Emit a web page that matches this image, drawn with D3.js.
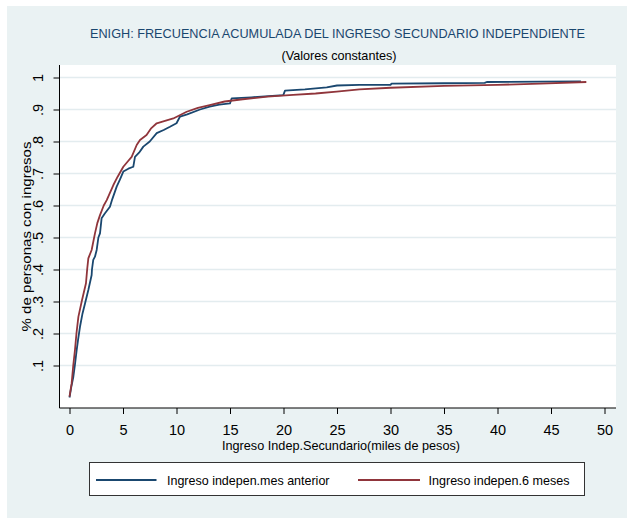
<!DOCTYPE html>
<html>
<head>
<meta charset="utf-8">
<script src="https://cdn.jsdelivr.net/npm/d3@7"></script>
<style>
  body { margin: 0; background: #fff; }
  text { font-family: "Liberation Sans", Arial, sans-serif; }
</style>
</head>
<body>
<div id="container"></div>
<script>
// Curva "mes anterior" (azul)
const blueX = [0, 0.15, 0.36, 0.5, 0.67, 0.8, 0.98, 1.2, 1.45, 1.76, 2.07, 2.1, 2.22, 2.38, 2.54, 2.7, 2.85, 3.0, 3.3, 3.78,
  4.0, 4.41, 4.7, 5.03, 5.5, 5.96, 6.12, 6.5, 6.9, 7.5, 8.15, 8.8, 9.39, 10.0, 10.33, 11.0, 12.2, 13.1, 14.0, 15.0,
  15.16, 17.0, 19.98, 20.14, 22.0, 24.04, 25.0, 27.1, 30.0, 30.1, 35.0, 38.8, 39.0, 44.0, 47.8];
const blueY = [0.0, 0.03, 0.065, 0.1, 0.148, 0.18, 0.221, 0.26, 0.294, 0.336, 0.383, 0.4, 0.43, 0.44, 0.461, 0.5, 0.513, 0.56, 0.575, 0.596,
  0.62, 0.659, 0.68, 0.706, 0.715, 0.721, 0.752, 0.765, 0.784, 0.8, 0.826, 0.836, 0.846, 0.857, 0.878, 0.885, 0.9, 0.909, 0.915, 0.919,
  0.935, 0.938, 0.945, 0.959, 0.963, 0.969, 0.975, 0.977, 0.977, 0.981, 0.982, 0.983, 0.986, 0.987, 0.988];

// Curva "6 meses" (roja)
const redX = [0, 0.2, 0.35, 0.51, 0.65, 0.83, 1.14, 1.54, 1.65, 1.76, 2.07, 2.38, 2.6, 2.85, 3.2, 3.48, 4.1, 4.5, 5.03, 5.5,
  5.81, 6.28, 6.59, 7.2, 7.6, 8.15, 9.0, 9.7, 10.95, 12.0, 13.1, 14.5, 16.2, 18.5, 20.9, 23.0, 24.97, 27.1, 30.0, 35.0,
  40.0, 44.0, 48.3];
const redY = [0.003, 0.044, 0.1, 0.148, 0.2, 0.252, 0.3, 0.357, 0.4, 0.435, 0.461, 0.513, 0.545, 0.57, 0.6, 0.617, 0.664, 0.69, 0.721, 0.74,
  0.752, 0.789, 0.805, 0.82, 0.84, 0.857, 0.865, 0.872, 0.893, 0.905, 0.914, 0.925, 0.932, 0.94, 0.946, 0.95, 0.956, 0.963, 0.968, 0.974,
  0.977, 0.981, 0.986];

const xTicks = [0, 5, 10, 15, 20, 25, 30, 35, 40, 45, 50];
const yTicks = [0.1, 0.2, 0.3, 0.4, 0.5, 0.6, 0.7, 0.8, 0.9, 1];
const seriesNames = ['Ingreso indepen.mes anterior', 'Ingreso indepen.6 meses'];
const seriesColors = ['#1a476f', '#90353b'];

window.addEventListener('DOMContentLoaded', (event) => {

    const svg = d3.select('#container')
        .append('svg')
        .attr('width', 627)
        .attr('height', 518);

    // fondo del grafico
    svg.append('rect')
        .attr('x', 7).attr('y', 6)
        .attr('width', 620).attr('height', 512)
        .attr('fill', '#eaf2f3');

    const plot = { left: 59.5, right: 616, top: 65, bottom: 408 };

    svg.append('rect')
        .attr('x', plot.left).attr('y', plot.top)
        .attr('width', plot.right - plot.left)
        .attr('height', plot.bottom - plot.top)
        .attr('fill', '#fff');

    const x = d3.scaleLinear().domain([0, 50]).range([69.5, 604.5]);
    const y = d3.scaleLinear().domain([0, 1]).range([397.5, 77.5]);

    // lineas de grilla
    svg.append('g')
        .selectAll('line')
        .data(yTicks)
        .enter()
        .append('line')
        .attr('x1', plot.left).attr('x2', plot.right)
        .attr('y1', d => y(d)).attr('y2', d => y(d))
        .attr('stroke', '#e3ecef')
        .attr('stroke-width', 1.5);

    // eje y
    const yAxis = svg.append('g')
        .attr('transform', `translate(${plot.left},0)`)
        .call(d3.axisLeft(y)
            .tickValues(yTicks)
            .tickSize(6)
            .tickFormat(d => d === 1 ? '1' : d3.format('.1f')(d).replace(/^0/, '')));
    yAxis.select('.domain').remove();
    yAxis.selectAll('.tick line').attr('stroke', '#000');
    yAxis.selectAll('.tick text')
        .attr('transform', 'rotate(-90)')
        .attr('x', 0)
        .attr('y', -21.5)
        .attr('dy', '0.35em')
        .attr('text-anchor', 'middle')
        .attr('font-size', 14.5)
        .attr('font-family', '"Liberation Sans", Arial, sans-serif')
        .attr('fill', '#000');

    // eje x
    const xAxis = svg.append('g')
        .attr('transform', `translate(0,${plot.bottom})`)
        .call(d3.axisBottom(x).tickValues(xTicks).tickSize(6).tickFormat(d3.format('d')));
    xAxis.select('.domain').remove();
    xAxis.selectAll('.tick line').attr('stroke', '#000');
    xAxis.selectAll('.tick text')
        .attr('y', 17)
        .attr('font-size', 14.5)
        .attr('font-family', '"Liberation Sans", Arial, sans-serif')
        .attr('fill', '#000');

    svg.append('line')
        .attr('x1', plot.left).attr('x2', plot.left)
        .attr('y1', plot.top).attr('y2', plot.bottom)
        .attr('stroke', '#000');
    svg.append('line')
        .attr('x1', plot.left).attr('x2', plot.right)
        .attr('y1', plot.bottom).attr('y2', plot.bottom)
        .attr('stroke', '#000');

    // curvas
    const line = d3.line()
        .x(d => x(d[0]))
        .y(d => y(d[1]));

    const series = [
        d3.zip(blueX, blueY),
        d3.zip(redX, redY)
    ];

    series.forEach((pts, i) => {
        svg.append('path')
            .datum(pts)
            .attr('d', line)
            .attr('fill', 'none')
            .attr('stroke', seriesColors[i])
            .attr('stroke-width', 1.8)
            .attr('stroke-linejoin', 'round');
    });

    // titulos
    svg.append('text')
        .attr('x', 337.5).attr('y', 33)
        .attr('dy', '0.35em')
        .attr('text-anchor', 'middle')
        .attr('font-size', 13)
        .attr('fill', '#1a476f')
        .attr('textLength', 495)
        .attr('lengthAdjust', 'spacingAndGlyphs')
        .text('ENIGH: FRECUENCIA ACUMULADA DEL INGRESO SECUNDARIO INDEPENDIENTE');

    svg.append('text')
        .attr('x', 339).attr('y', 55)
        .attr('dy', '0.35em')
        .attr('text-anchor', 'middle')
        .attr('font-size', 13)
        .attr('fill', '#000')
        .attr('textLength', 115)
        .attr('lengthAdjust', 'spacingAndGlyphs')
        .text('(Valores constantes)');

    svg.append('text')
        .attr('x', 341).attr('y', 445)
        .attr('dy', '0.35em')
        .attr('text-anchor', 'middle')
        .attr('font-size', 13)
        .attr('fill', '#000')
        .attr('textLength', 238)
        .attr('lengthAdjust', 'spacingAndGlyphs')
        .text('Ingreso Indep.Secundario(miles de pesos)');

    svg.append('text')
        .attr('transform', 'translate(26,236.5) rotate(-90)')
        .attr('dy', '0.35em')
        .attr('text-anchor', 'middle')
        .attr('font-size', 13)
        .attr('fill', '#000')
        .attr('textLength', 190)
        .attr('lengthAdjust', 'spacingAndGlyphs')
        .text('% de personas con ingresos');

    // leyenda
    svg.append('rect')
        .attr('x', 89.5).attr('y', 462.5)
        .attr('width', 495).attr('height', 33)
        .attr('fill', '#fff')
        .attr('stroke', '#333')
        .attr('stroke-width', 1);

    const legendItems = [
        { x1: 96, x2: 156.5, tx: 167, tw: 162.5 },
        { x1: 358, x2: 420, tx: 428.5, tw: 141 }
    ];

    legendItems.forEach((item, i) => {
        svg.append('line')
            .attr('x1', item.x1).attr('x2', item.x2)
            .attr('y1', 480).attr('y2', 480)
            .attr('stroke', seriesColors[i])
            .attr('stroke-width', 1.8);
        svg.append('text')
            .attr('x', item.tx).attr('y', 480)
            .attr('dy', '0.35em')
            .attr('font-size', 13)
            .attr('fill', '#000')
            .attr('textLength', item.tw)
            .attr('lengthAdjust', 'spacingAndGlyphs')
            .text(seriesNames[i]);
    });

}); // fin
</script>
</body>
</html>
